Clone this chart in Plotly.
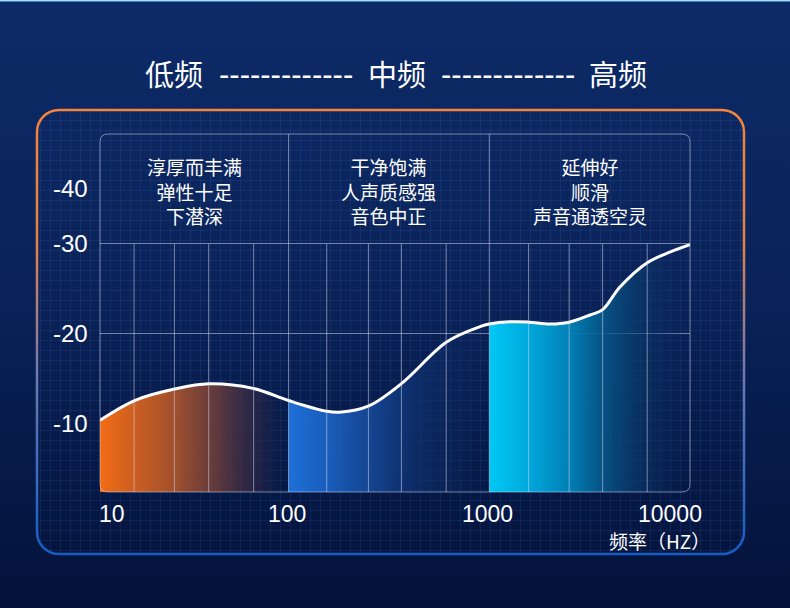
import base64
import math
import plotly.graph_objects as go

# frequency response curve (Hz, level)
freq = [11.5, 17.1, 27.4, 40, 66.5, 100, 155, 180, 251, 366, 613, 899,
        1000, 1268, 1571, 2005, 2500, 3178, 3673, 4477, 6120, 7980, 10000]
level = [-10.4, -12.6, -13.9, -14.45, -13.95, -12.6, -11.4, -11.3, -12.0, -14.5, -19.1, -20.8,
         -21.1, -21.35, -21.3, -21.1, -21.3, -22.1, -22.7, -25.2, -27.9, -29.1, -29.9]

band_edges = [11.5, 100, 1000, 10000]
band_notes = [
    ["淳厚而丰满", "弹性十足", "下潜深"],
    ["干净饱满", "人声质感强", "音色中正"],
    ["延伸好", "顺滑", "声音通透空灵"],
]
band_titles = ["低频", "中频", "高频"]

grid_freqs = [17, 27, 40, 67, 155, 250, 365, 610, 1570, 2500, 3670, 6120]
x_tick_vals = [10, 100, 1000, 10000]
x_tick_text = ["10", "100", "1000", "10000"]
y_tick_vals = [-10, -20, -30]
y_tick_text = ["-10", "-20", "-30", "-40"]
y_range = [-2.44, -42.2]

band_colors = [
    [[0, "rgba(243,108,22,1)"], [0.4, "rgba(168,82,44,0.95)"], [0.62, "rgba(110,62,58,0.85)"],
     [0.85, "rgba(45,38,70,0.6)"], [1, "rgba(15,30,75,0)"]],
    [[0, "rgba(30,112,216,1)"], [0.2, "rgba(26,96,192,0.95)"], [0.42, "rgba(22,74,154,0.85)"],
     [0.6, "rgba(16,54,120,0.7)"], [0.85, "rgba(14,45,100,0.3)"], [1, "rgba(12,40,95,0)"]],
    [[0, "rgba(0,200,245,1)"], [0.2, "rgba(0,168,220,1)"], [0.4, "rgba(0,133,187,0.95)"],
     [0.57, "rgba(6,90,140,0.85)"], [0.8, "rgba(10,55,105,0.5)"], [1, "rgba(10,40,95,0)"]],
]

W, H = 790, 608
CJK = "Noto Sans CJK SC"
NUM = "Liberation Sans"

# background: navy gradient, fine grid and rounded frame
svg = f"""<svg xmlns="http://www.w3.org/2000/svg" width="{W}" height="{H}">
<defs>
<linearGradient id="bg" x1="0" y1="0" x2="0" y2="1">
<stop offset="0" stop-color="#0d2b68"/><stop offset="0.5" stop-color="#0a2258"/><stop offset="1" stop-color="#03123a"/>
</linearGradient>
<linearGradient id="bd" x1="0" y1="0" x2="0" y2="1">
<stop offset="0" stop-color="#f5843a"/><stop offset="0.3" stop-color="#e48048"/>
<stop offset="0.6" stop-color="#6c7ab0"/><stop offset="1" stop-color="#165cc4"/>
</linearGradient>
<pattern id="g" width="10" height="10" patternUnits="userSpaceOnUse">
<path d="M10 0 L0 0 0 10" fill="none" stroke="rgba(90,135,215,0.22)" stroke-width="1"/>
</pattern>
</defs>
<rect width="{W}" height="{H}" fill="url(#bg)"/>
<rect x="0" y="0" width="{W}" height="1.5" fill="#9fdcff"/>
<rect x="37" y="110" width="707" height="444" rx="22" fill="url(#g)" stroke="url(#bd)" stroke-width="2.5"/>
</svg>"""
bg_src = "data:image/svg+xml;base64," + base64.b64encode(svg.encode()).decode()

fig = go.Figure()

# gradient fills for the three bands
for i in range(3):
    lo, hi = band_edges[i], band_edges[i + 1]
    xs = [f for f in freq if lo <= f <= hi]
    ys = [l for f, l in zip(freq, level) if lo <= f <= hi]
    fig.add_trace(go.Scatter(
        x=xs, y=ys, mode="lines", line=dict(width=0, shape="spline"),
        fill="tozeroy",
        fillgradient=dict(type="horizontal", colorscale=band_colors[i]),
        hoverinfo="skip", showlegend=False))

fig.add_trace(go.Scatter(
    x=freq, y=level, mode="lines",
    line=dict(color="white", width=3, shape="spline"),
    showlegend=False))

grid_line = dict(color="rgba(205,215,235,0.55)", width=1)
shapes = []
for f in grid_freqs:
    shapes.append(dict(type="line", xref="x", yref="y", x0=f, x1=f,
                       y0=y_range[0], y1=-30, line=grid_line, layer="above"))
for f in band_edges[1:3]:
    shapes.append(dict(type="line", xref="x", yref="y", x0=f, x1=f,
                       y0=y_range[0], y1=y_range[1], line=grid_line, layer="above"))

# rounded inner frame (in domain units)
rx, ry = 8 / 590, 8 / 358
path = (f"M {rx} 0 L {1 - rx} 0 Q 1 0 1 {ry} L 1 {1 - ry} Q 1 1 {1 - rx} 1 "
        f"L {rx} 1 Q 0 1 0 {1 - ry} L 0 {ry} Q 0 0 {rx} 0 Z")
shapes.append(dict(type="path", xref="x domain", yref="y domain", path=path,
                   line=grid_line, layer="above"))

ann = []
# band descriptions, centred in the header strip
y_head = (y_range[1] + -30) / 2
for i in range(3):
    xc = math.sqrt(band_edges[i] * band_edges[i + 1])
    ann.append(dict(x=math.log10(xc), y=y_head, xref="x", yref="y", yshift=-2,
                    text="<br>".join(band_notes[i]), showarrow=False,
                    xanchor="center", yanchor="middle",
                    font=dict(family=CJK, size=19, color="white")))

# y labels
for v, t in zip(y_tick_vals + [y_head], y_tick_text):
    ann.append(dict(x=90 / W, y=v, xref="paper", yref="y", text=t, showarrow=False,
                    xanchor="right", yanchor="middle",
                    font=dict(family=NUM, size=24, color="white")))

# x labels
x_min = math.log10(band_edges[0])
x_anchor = ["left", "center", "center", "right"]
x_shift = [-3, -2, -2, 14]
for v, t, a, s in zip(x_tick_vals, x_tick_text, x_anchor, x_shift):
    ann.append(dict(x=max(math.log10(v), x_min), y=1 - 514 / H, xref="x", yref="paper",
                    text=t, showarrow=False, xanchor=a, yanchor="middle", xshift=s,
                    font=dict(family=NUM, size=23, color="white")))
ann.append(dict(x=4, y=1 - 540 / H, xref="x", yref="paper", text="频率（HZ）",
                showarrow=False, xanchor="right", yanchor="middle", xshift=22,
                font=dict(family=CJK, size=19, color="white")))

# headline
title_x = [174, 397, 618]
for t, xc in zip(band_titles, title_x):
    ann.append(dict(x=xc / W, y=1 - 73 / H, xref="paper", yref="paper", text=t,
                    showarrow=False, xanchor="center", yanchor="middle",
                    font=dict(family=CJK, size=29, color="white")))
for xc in [285.5, 508]:
    ann.append(dict(x=xc / W, y=1 - 74 / H, xref="paper", yref="paper", text="-" * 13,
                    showarrow=False, xanchor="center", yanchor="middle",
                    font=dict(family=NUM, size=31, color="white")))

fig.update_layout(
    width=W, height=H,
    margin=dict(l=0, r=0, t=0, b=0),
    paper_bgcolor="rgba(0,0,0,0)",
    plot_bgcolor="rgba(0,0,0,0)",
    images=[dict(source=bg_src, xref="paper", yref="paper", x=0, y=1,
                 sizex=1, sizey=1, sizing="stretch", xanchor="left", yanchor="top",
                 layer="below")],
    xaxis=dict(type="log", range=[x_min, 4],
               domain=[100 / W, 690 / W], showgrid=False, zeroline=False,
               showticklabels=False, ticks=""),
    yaxis=dict(range=y_range, domain=[1 - 492 / H, 1 - 134 / H],
               tickvals=[-20, -30], showgrid=True, gridcolor="rgba(205,215,235,0.55)",
               gridwidth=1, zeroline=False, showticklabels=False, ticks=""),
    shapes=shapes,
    annotations=ann,
    showlegend=False,
)

fig.write_html("out.html", config={"displayModeBar": False},
               post_script="document.body.style.margin='0';")
